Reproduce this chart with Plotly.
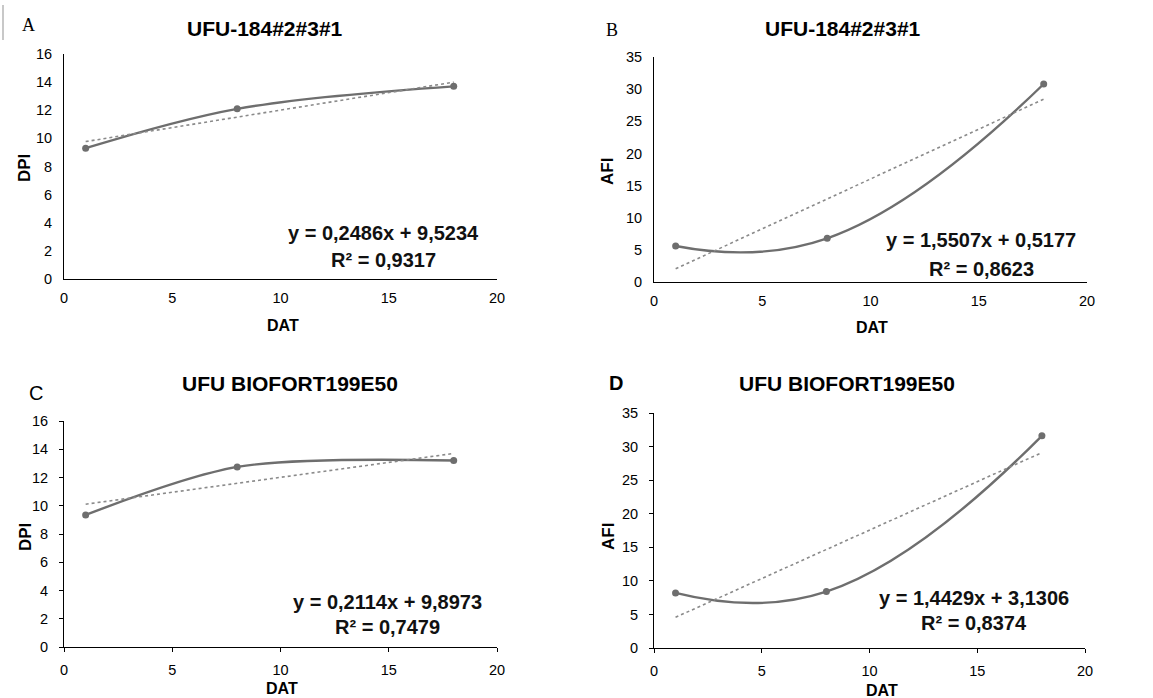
import plotly.graph_objects as go

W, H = 1153, 698

# ---- data ----
dat = [1, 8, 18]
dpi_a = [9.3, 12.1, 13.7]
afi_b = [5.6, 6.8, 30.8]
dpi_c = [9.35, 12.75, 13.2]
afi_d = [8.2, 8.4, 31.6]
slopes = [0.2486, 1.5507, 0.2114, 1.4429]
intercepts = [9.5234, 0.5177, 9.8973, 3.1306]
eq_texts = ["y = 0,2486x + 9,5234", "y = 1,5507x + 0,5177",
            "y = 0,2114x + 9,8973", "y = 1,4429x + 3,1306"]
r2_texts = ["R² = 0,9317", "R² = 0,8623", "R² = 0,7479", "R² = 0,8374"]
titles = ["UFU-184#2#3#1", "UFU-184#2#3#1", "UFU BIOFORT199E50", "UFU BIOFORT199E50"]
ylabels = ["DPI", "AFI", "DPI", "AFI"]
yranges = [16, 35, 16, 35]
ydticks = [2, 5, 2, 5]
series = [dpi_a, afi_b, dpi_c, afi_d]

# ---- layout (pixel boxes of plot areas: x0, x1, ytop, ybottom) ----
boxes = [(64, 497, 54, 279), (654, 1087, 57, 282),
         (64, 497, 421, 647), (654, 1085, 413, 648)]
smooth = [1.0, 1.3, 0.85, 1.3]

def px(x):
    return x / W

def py(y):
    return 1 - y / H

FONT = "Arial, Liberation Sans, sans-serif"
fig = go.Figure()
annotations = []

for i in range(4):
    x0, x1, yt, yb = boxes[i]
    sfx = "" if i == 0 else str(i + 1)
    xa, ya = "x" + sfx, "y" + sfx
    fig.add_trace(go.Scatter(
        x=dat, y=series[i], mode="lines+markers",
        line=dict(color="#6e6e6e", width=2.4, shape="spline", smoothing=smooth[i]),
        marker=dict(color="#6e6e6e", size=7),
        xaxis=xa, yaxis=ya, showlegend=False))
    tx = [dat[0], dat[-1]]
    ty = [slopes[i] * v + intercepts[i] for v in tx]
    fig.add_trace(go.Scatter(
        x=tx, y=ty, mode="lines",
        line=dict(color="#8a8a8a", width=1.6, dash="dot"),
        xaxis=xa, yaxis=ya, showlegend=False))
    ticks = "outside" if i >= 2 else ""
    fig.layout["xaxis" + sfx] = dict(
        domain=[px(x0), px(x1)], range=[0, 20], dtick=5, tick0=0,
        anchor=ya, showgrid=False, zeroline=False, showline=True, automargin=False,
        linecolor="#000000", linewidth=1, ticks=ticks, ticklen=4,
        tickcolor="#000", tickfont=dict(family=FONT, size=14.5, color="#000"),
        ticklabelstandoff=6, fixedrange=True)
    fig.layout["yaxis" + sfx] = dict(
        domain=[py(yb), py(yt)], range=[0, yranges[i]], dtick=ydticks[i], tick0=0,
        anchor=xa, showgrid=False, zeroline=False, showline=True, automargin=False,
        linecolor="#000000", linewidth=1, ticks=ticks, ticklen=4,
        tickcolor="#000", tickfont=dict(family=FONT, size=14.5, color="#000"),
        ticklabelstandoff=8, fixedrange=True)

# titles
title_pos = [(265, 28), (843, 28), (290, 383), (847, 383)]
for t, (x, y) in zip(titles, title_pos):
    annotations.append(dict(text="<b>%s</b>" % t, x=px(x), y=py(y), xref="paper", yref="paper",
                            showarrow=False, xanchor="center", yanchor="middle",
                            font=dict(family=FONT, size=21, color="#000")))
# panel letters
letters = [("A", 28, 25, "Liberation Serif, Times New Roman, serif", 18, False),
           ("B", 612, 30, "Liberation Serif, Times New Roman, serif", 18, False),
           ("C", 36, 393, FONT, 20, False),
           ("D", 616, 383, FONT, 20, True)]
for t, x, y, f, s, b in letters:
    annotations.append(dict(text=("<b>%s</b>" % t) if b else t, x=px(x), y=py(y),
                            xref="paper", yref="paper", showarrow=False,
                            xanchor="center", yanchor="middle",
                            font=dict(family=f, size=s, color="#000")))
# axis titles
xt_pos = [(283, 325), (872, 328), (282, 688), (882, 690)]
yt_pos = [(25, 168), (608, 172), (25, 537), (608, 537)]
for i in range(4):
    x, y = xt_pos[i]
    annotations.append(dict(text="<b>DAT</b>", x=px(x), y=py(y), xref="paper", yref="paper",
                            showarrow=False, xanchor="center", yanchor="middle",
                            font=dict(family=FONT, size=16, color="#000")))
    x, y = yt_pos[i]
    annotations.append(dict(text="<b>%s</b>" % ylabels[i], x=px(x), y=py(y), xref="paper",
                            yref="paper", showarrow=False, xanchor="center", yanchor="middle",
                            textangle=-90, font=dict(family=FONT, size=17, color="#000")))
# equations
eq_pos = [(383, 233, 260), (981, 240, 269), (387, 602, 627), (974, 598, 623)]
for i in range(4):
    x, y1, y2 = eq_pos[i]
    annotations.append(dict(text="<b>%s</b>" % eq_texts[i], x=px(x), y=py(y1), xref="paper",
                            yref="paper", showarrow=False, xanchor="center", yanchor="middle",
                            font=dict(family=FONT, size=20, color="#111")))
    annotations.append(dict(text="<b>%s</b>" % r2_texts[i], x=px(x), y=py(y2), xref="paper",
                            yref="paper", showarrow=False, xanchor="center", yanchor="middle",
                            font=dict(family=FONT, size=20, color="#111")))

fig.update_layout(
    template="none",
    width=W, height=H, margin=dict(l=0, r=0, t=0, b=0, pad=0),
    paper_bgcolor="white", plot_bgcolor="white",
    annotations=annotations,
    shapes=[dict(type="line", xref="paper", yref="paper", x0=px(3), x1=px(3),
                 y0=py(5), y1=py(40), line=dict(color="#c8c8c8", width=2))],
)

fig.write_html("out.html", config={"displayModeBar": False},
               post_script="document.body.style.margin='0';document.body.style.overflow='hidden';")
